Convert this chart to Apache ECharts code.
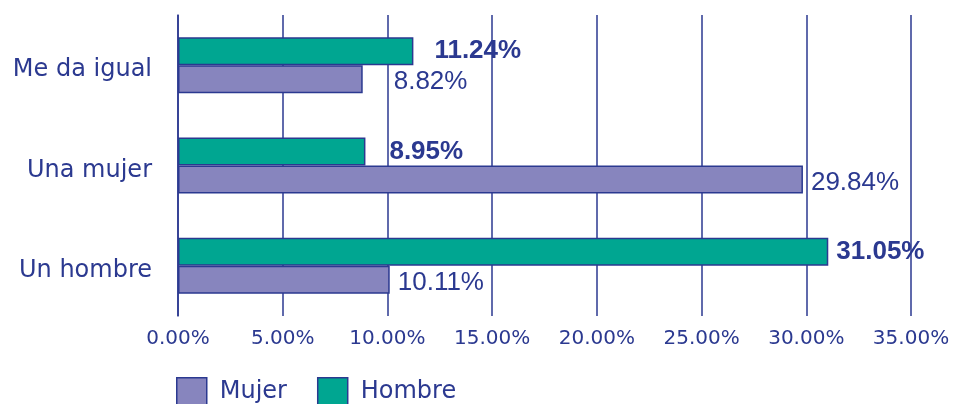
<!DOCTYPE html>
<html>
<head>
<meta charset="utf-8">
<script src="https://cdn.jsdelivr.net/npm/echarts@6/dist/echarts.min.js"></script>
<style>
  html, body { margin: 0; padding: 0; background: #fff; }
  #chart { width: 953px; height: 404px; }
</style>
</head>
<body>
<div id="chart"></div>
<script>
// Data (bottom to top on the category axis)
var categories = ['Un hombre', 'Una mujer', 'Me da igual'];
var mujerValues = [10.11, 29.84, 8.82];
var hombreValues = [31.05, 8.95, 11.24];
var xTicks = [0, 5, 10, 15, 20, 25, 30, 35];

// Label nudges (style only)
var mujerLabelDist = [8, 8, 31];
var hombreLabelDist = [8, 24, 21];

var navy = '#2b3990';

var chart = echarts.init(document.getElementById('chart'));

function withLabels(values, dists) {
    return values.map(function (v, i) {
        return {
            value: v,
            label: { distance: dists[i] }
        };
    });
}

chart.setOption({
    animation: false,
    textStyle: { fontFamily: 'DejaVu Sans, sans-serif' },
    grid: { left: 178, right: 42, top: 15, bottom: 88 },
    legend: {
        left: 176,
        top: 377,
        padding: 0,
        itemWidth: 30,
        itemHeight: 28,
        itemGap: 30,
        icon: 'rect',
        data: ['Mujer', 'Hombre'],
        itemStyle: { borderColor: navy, borderWidth: 1.5 },
        textStyle: { color: navy, fontSize: 24, padding: [0, 0, 0, 8] }
    },
    xAxis: {
        type: 'value',
        min: xTicks[0],
        max: xTicks[xTicks.length - 1],
        interval: 5,
        axisLine: { show: false },
        axisTick: { show: false },
        splitLine: { lineStyle: { color: navy, width: 1.5 } },
        axisLabel: {
            color: navy,
            fontSize: 20,
            margin: 13,
            formatter: function (v) { return v.toFixed(2) + '%'; }
        }
    },
    yAxis: {
        type: 'category',
        data: categories,
        axisLine: { show: true, lineStyle: { color: navy, width: 1.5 } },
        axisTick: { show: false },
        axisLabel: {
            color: navy,
            fontSize: 24,
            margin: 26,
            formatter: function (v) { return '{c|' + v + '}'; },
            rich: { c: { color: navy, fontSize: 24, padding: [10, 0, 0, 0] } }
        }
    },
    series: [
        {
            name: 'Hombre',
            type: 'bar',
            barWidth: 28,
            barGap: '0%',
            itemStyle: { color: '#00a691', borderColor: navy, borderWidth: 1.5 },
            label: {
                show: true,
                position: 'right',
                color: navy,
                fontSize: 26,
                fontWeight: 'bold',
                fontFamily: 'Liberation Sans, Arial, sans-serif',
                formatter: function (p) { return p.value.toFixed(2) + '%'; }
            },
            data: withLabels(hombreValues, hombreLabelDist)
        },
        {
            name: 'Mujer',
            type: 'bar',
            barWidth: 28,
            barGap: '0%',
            itemStyle: { color: '#8785be', borderColor: navy, borderWidth: 1.5 },
            label: {
                show: true,
                position: 'right',
                color: navy,
                fontSize: 26,
                fontFamily: 'Liberation Sans, Arial, sans-serif',
                offset: [0, 3],
                formatter: function (p) { return p.value.toFixed(2) + '%'; }
            },
            data: withLabels(mujerValues, mujerLabelDist)
        }
    ]
});
</script>
</body>
</html>
